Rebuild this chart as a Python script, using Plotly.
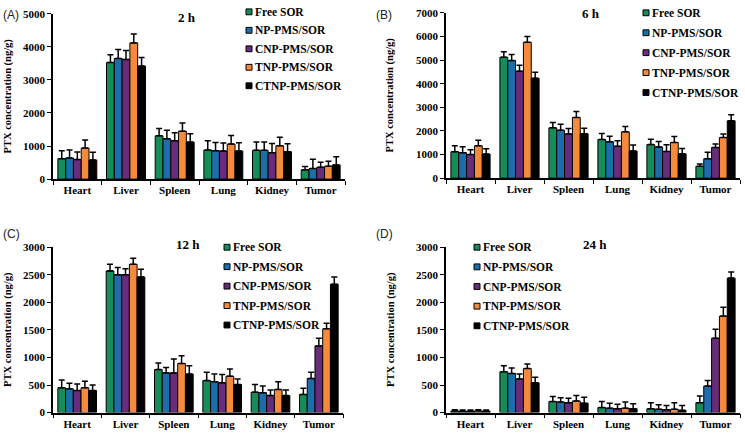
import plotly.graph_objects as go

W, H = 745, 439

organs = ["Heart", "Liver", "Spleen", "Lung", "Kidney", "Tumor"]
series_names = ["Free SOR", "NP-PMS/SOR", "CNP-PMS/SOR", "TNP-PMS/SOR", "CTNP-PMS/SOR"]
series_colors = ["#168c5a", "#1b6ea8", "#682c7c", "#f58a3c", "#000000"]

# 2 h
free_2h = [620, 3530, 1310, 880, 870, 280]
np_2h = [640, 3650, 1220, 860, 870, 320]
cnp_2h = [590, 3620, 1160, 850, 800, 360]
tnp_2h = [940, 4120, 1450, 1060, 1010, 390]
ctnp_2h = [580, 3420, 1120, 850, 830, 430]
free_2h_err = [240, 230, 220, 280, 250, 100]
np_2h_err = [240, 270, 260, 250, 250, 280]
cnp_2h_err = [230, 270, 240, 240, 280, 150]
tnp_2h_err = [240, 270, 250, 260, 260, 150]
ctnp_2h_err = [230, 260, 250, 250, 240, 250]

# 6 h
free_6h = [1120, 5120, 2130, 1640, 1420, 500]
np_6h = [1080, 4980, 2030, 1540, 1320, 820]
cnp_6h = [1000, 4530, 1870, 1350, 1130, 1300]
tnp_6h = [1370, 5750, 2570, 1960, 1510, 1720]
ctnp_6h = [1020, 4230, 1880, 1150, 1030, 2430]
free_6h_err = [250, 230, 230, 250, 230, 100]
np_6h_err = [250, 250, 250, 230, 230, 280]
cnp_6h_err = [200, 250, 230, 230, 280, 150]
tnp_6h_err = [230, 250, 250, 230, 250, 150]
ctnp_6h_err = [230, 250, 230, 250, 230, 250]

# 12 h
free_12h = [450, 2570, 780, 580, 370, 330]
np_12h = [430, 2500, 720, 560, 360, 620]
cnp_12h = [400, 2500, 720, 540, 310, 1210]
tnp_12h = [450, 2690, 890, 660, 420, 1520]
ctnp_12h = [400, 2460, 700, 510, 310, 2330]
free_12h_err = [140, 120, 120, 150, 140, 110]
np_12h_err = [100, 130, 100, 140, 120, 110]
cnp_12h_err = [120, 110, 250, 150, 100, 140]
tnp_12h_err = [120, 110, 140, 130, 140, 100]
ctnp_12h_err = [100, 140, 150, 100, 100, 130]

# 24 h
free_24h = [30, 740, 200, 90, 70, 180]
np_24h = [25, 710, 190, 80, 60, 480]
cnp_24h = [25, 610, 180, 70, 50, 1350]
tnp_24h = [30, 800, 210, 80, 60, 1750]
ctnp_24h = [25, 540, 170, 70, 40, 2440]
free_24h_err = [20, 110, 90, 110, 110, 120]
np_24h_err = [20, 100, 80, 90, 80, 100]
cnp_24h_err = [20, 90, 80, 80, 80, 160]
tnp_24h_err = [20, 80, 100, 110, 120, 160]
ctnp_24h_err = [20, 100, 110, 90, 90, 110]

y_max = [5000, 7000, 3000, 3000]
y_dtick = [1000, 1000, 500, 500]
titles = ["2 h", "6 h", "12 h", "24 h"]
panel_letters = ["(A)", "(B)", "(C)", "(D)"]

panels = [
    ([free_2h, np_2h, cnp_2h, tnp_2h, ctnp_2h],
     [free_2h_err, np_2h_err, cnp_2h_err, tnp_2h_err, ctnp_2h_err]),
    ([free_6h, np_6h, cnp_6h, tnp_6h, ctnp_6h],
     [free_6h_err, np_6h_err, cnp_6h_err, tnp_6h_err, ctnp_6h_err]),
    ([free_12h, np_12h, cnp_12h, tnp_12h, ctnp_12h],
     [free_12h_err, np_12h_err, cnp_12h_err, tnp_12h_err, ctnp_12h_err]),
    ([free_24h, np_24h, cnp_24h, tnp_24h, ctnp_24h],
     [free_24h_err, np_24h_err, cnp_24h_err, tnp_24h_err, ctnp_24h_err]),
]

# layout geometry in pixels (left, right, top, bottom)
boxes = [(53, 345, 8, 178), (446, 740, 7, 177), (53, 343, 248, 418), (446, 740, 248, 418)]
title_pos = [(187, 12), (591, 8), (188, 245), (595, 245)]
letter_pos = [(1, 9), (374, 9), (1, 234), (374, 234)]
ytitle_x = [8, 390, 8, 391]
legend_pos = [(246, 6, 19), (643, 7, 20.5), (224, 248, 20), (474, 248, 20.2)]

SERIF = "Liberation Serif"


def px(x):
    return x / W


def py(y):
    return 1 - y / H


fig = go.Figure()
annotations = []
shapes = []

for p, (vals, errs) in enumerate(panels):
    xa = "x" if p == 0 else f"x{p+1}"
    ya = "y" if p == 0 else f"y{p+1}"
    for s in range(5):
        fig.add_trace(go.Bar(
            x=organs, y=vals[s], name=series_names[s],
            marker=dict(color=series_colors[s], line=dict(color="black", width=1)),
            error_y=dict(type="data", array=errs[s], arrayminus=[0] * len(errs[s]),
                         symmetric=False, color="black", thickness=1.5, width=3),
            xaxis=xa, yaxis=ya, showlegend=False,
        ))
    l, r, t, b = boxes[p]
    axis_common = dict(showline=True, linecolor="black", linewidth=1.5,
                       ticks="outside", tickcolor="black", ticklen=4, tickwidth=1.2,
                       showgrid=False, zeroline=False)
    fig.layout[f"xaxis{'' if p == 0 else p+1}"] = dict(
        domain=[px(l), px(r)], anchor=ya, tickson="boundaries",
        tickfont=dict(family=SERIF, size=11, color="black", weight="bold"),
        **axis_common)
    fig.layout[f"yaxis{'' if p == 0 else p+1}"] = dict(
        domain=[py(b), py(t)], anchor=xa, range=[0, y_max[p]], dtick=y_dtick[p],
        tickfont=dict(family=SERIF, size=11, color="black", weight="bold"),
        **axis_common)

    # panel title
    tx, ty = title_pos[p]
    annotations.append(dict(x=px(tx), y=py(ty), xref="paper", yref="paper",
                            text=titles[p], showarrow=False, xanchor="center", yanchor="middle",
                            font=dict(family=SERIF, size=13, color="black", weight="bold")))
    # panel letter
    lx, ly = letter_pos[p]
    annotations.append(dict(x=px(lx), y=py(ly), xref="paper", yref="paper",
                            text=panel_letters[p], showarrow=False, xanchor="left", yanchor="middle",
                            font=dict(family="Liberation Sans", size=12, color="#222222")))
    # y axis title
    annotations.append(dict(x=px(ytitle_x[p]), y=py((t + b) / 2), xref="paper", yref="paper",
                            text="PTX concentration (ng/g)", showarrow=False, textangle=-90,
                            xanchor="center", yanchor="middle",
                            font=dict(family=SERIF, size=10.5, color="black", weight="bold")))
    # legend
    gx, gy, gstep = legend_pos[p]
    for s in range(5):
        cy = gy + s * gstep
        shapes.append(dict(type="rect", xref="paper", yref="paper",
                           x0=px(gx), x1=px(gx + 6), y0=py(cy + 3), y1=py(cy - 3),
                           fillcolor=series_colors[s], line=dict(color="black", width=1)))
        annotations.append(dict(x=px(gx + 7), y=py(cy), xref="paper", yref="paper",
                                text=series_names[s], showarrow=False, xanchor="left",
                                yanchor="middle",
                                font=dict(family=SERIF, size=11.5, color="black", weight="bold")))

fig.update_layout(
    width=W, height=H, margin=dict(l=0, r=0, t=0, b=0),
    paper_bgcolor="white", plot_bgcolor="white",
    barmode="group", bargap=0.2, bargroupgap=0,
    annotations=annotations, shapes=shapes, showlegend=False,
)

fig.write_html("out.html", config={"displayModeBar": False},
               post_script="document.body.style.margin='0px';document.body.style.overflow='hidden';")
